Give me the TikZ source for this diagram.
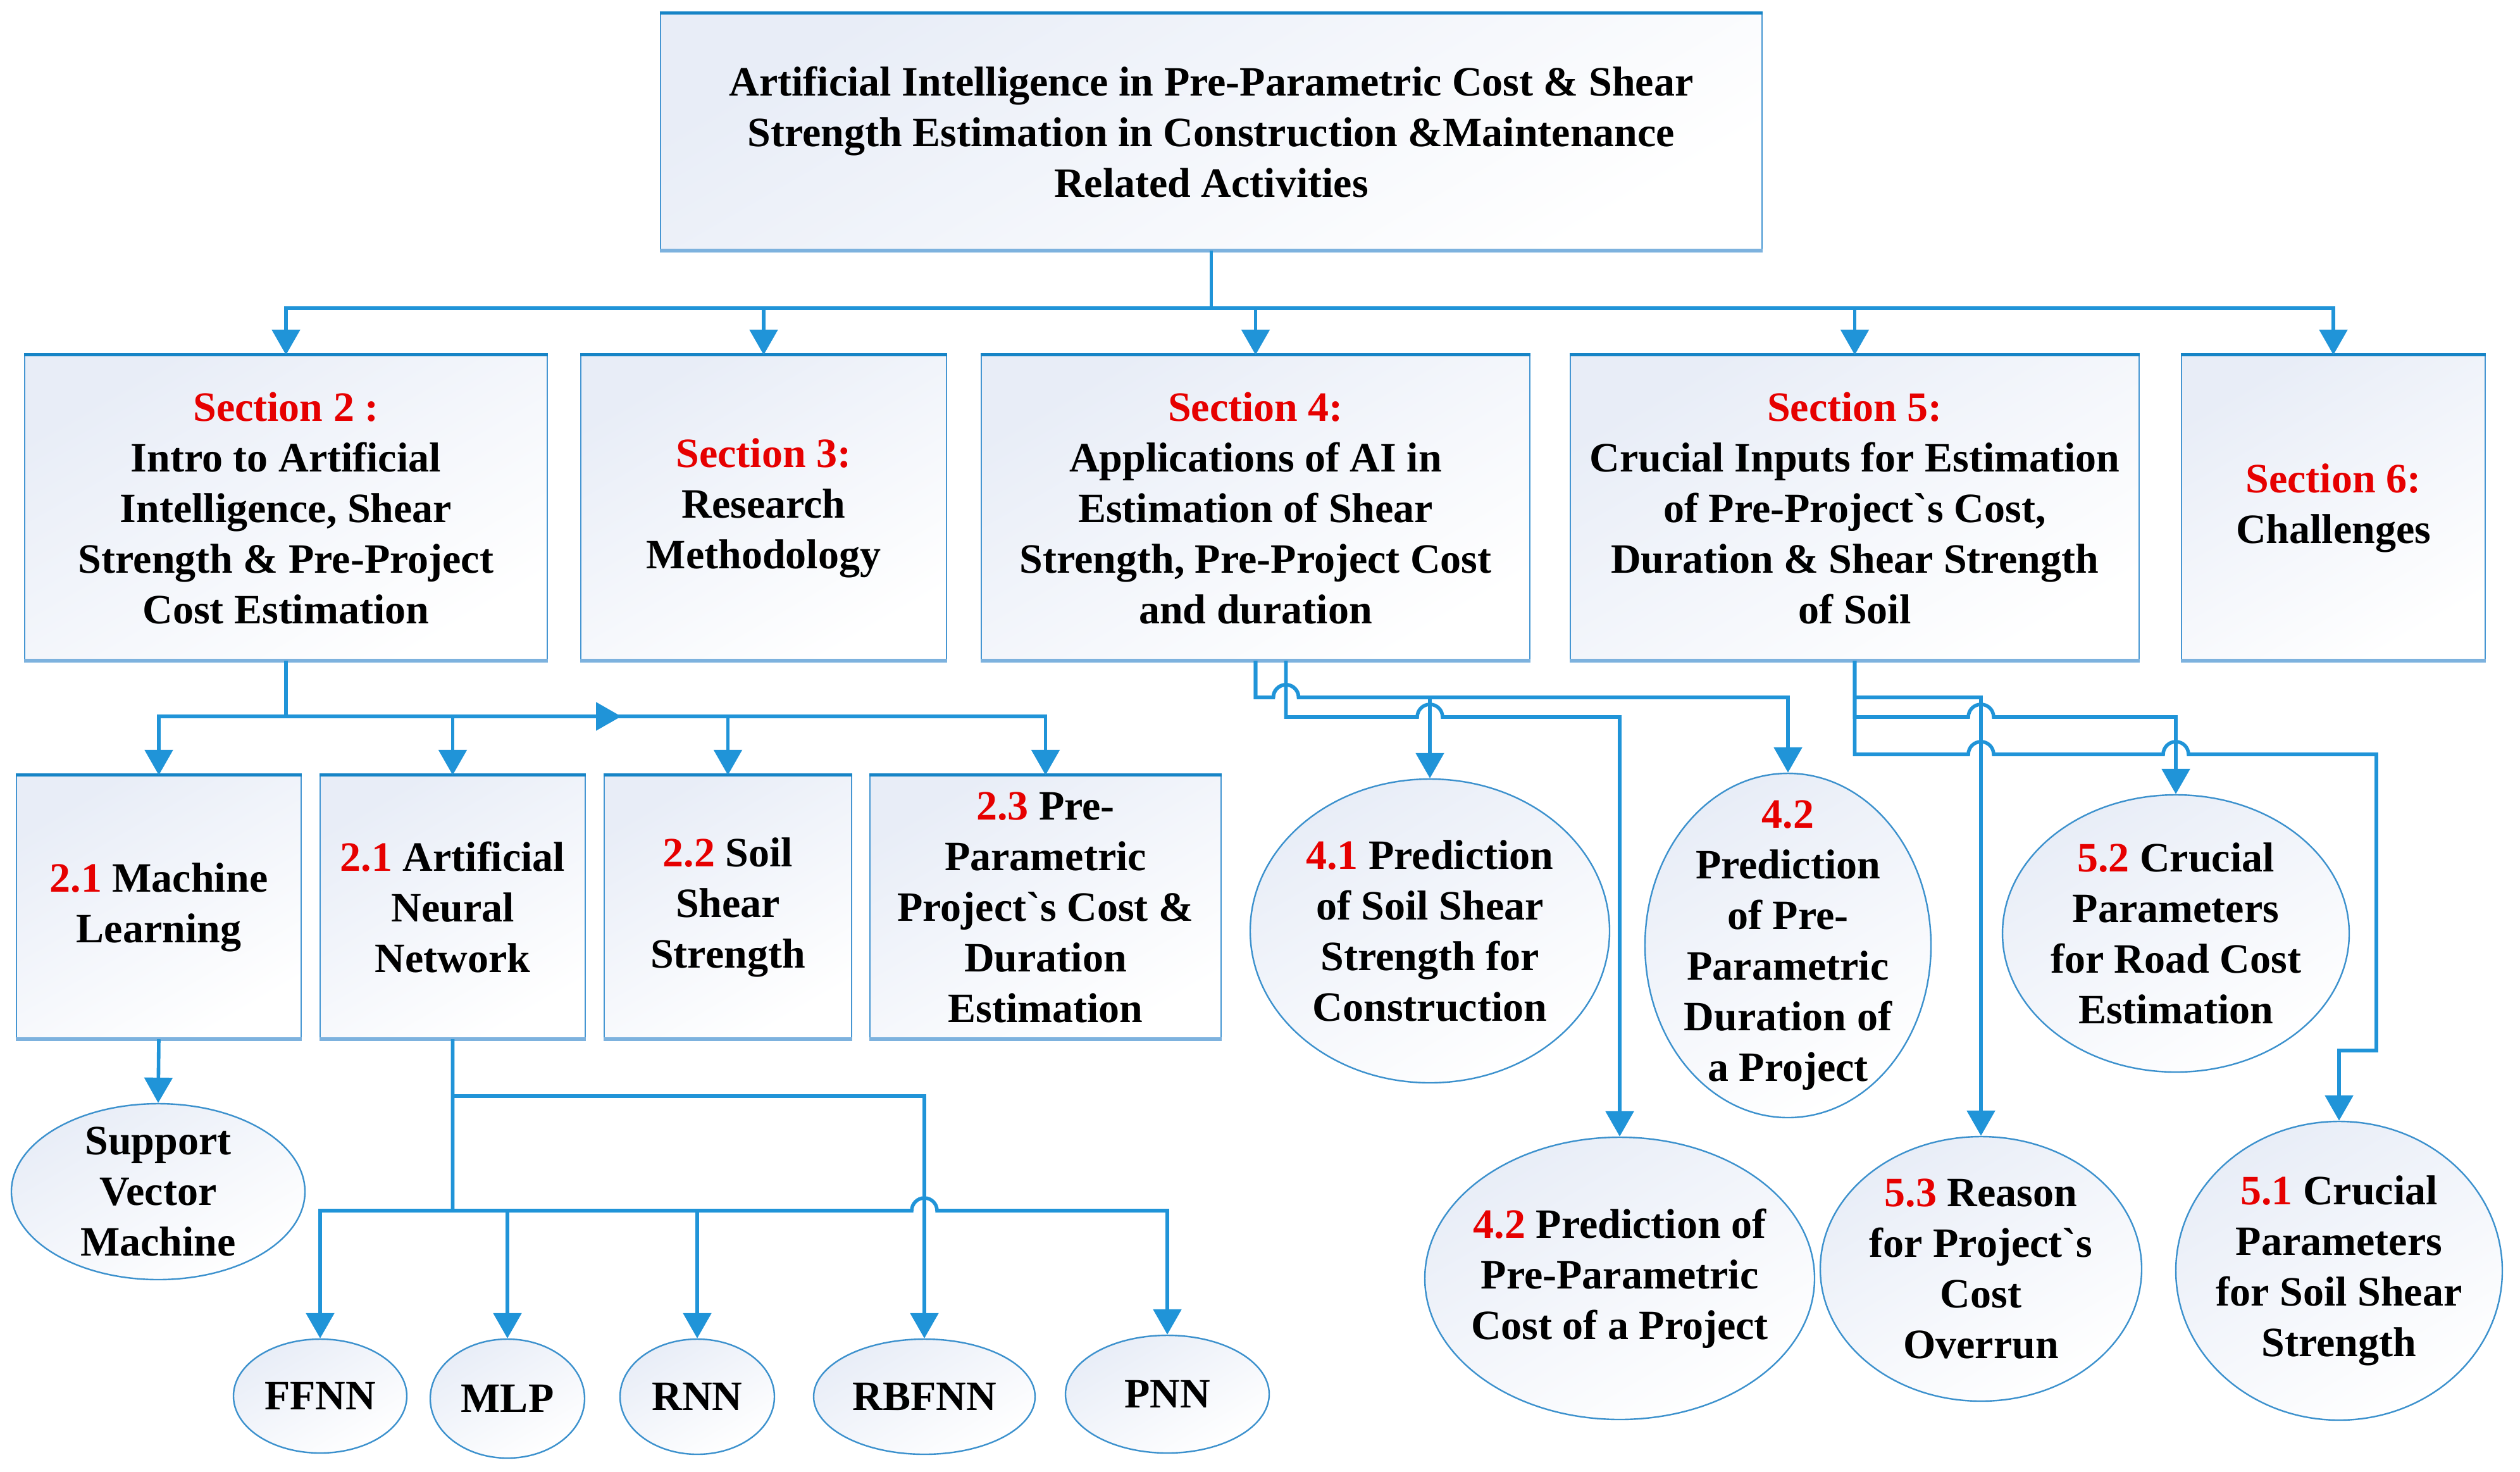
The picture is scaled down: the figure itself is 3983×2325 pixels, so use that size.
\documentclass[tikz,border=0pt]{standalone}
\usepackage{fontspec}
\newfontfamily\tnr{LiberationSerif-Bold.ttf}
\usetikzlibrary{shapes.geometric,arrows.meta}
\definecolor{lineblue}{RGB}{32,148,216}
\definecolor{sideblue}{RGB}{70,150,210}
\definecolor{topblue}{RGB}{22,132,198}
\definecolor{botblue}{RGB}{125,178,222}
\definecolor{ellblue}{RGB}{60,145,205}
\definecolor{fillA}{RGB}{232,237,247}
\definecolor{secred}{RGB}{230,0,0}
\newcommand{\rd}[1]{\textcolor{secred}{#1}}
\tikzset{
  box/.style={draw=sideblue, line width=0.6pt, inner sep=0pt, align=center,
    shading=axis, top color=fillA, bottom color=white, shading angle=30},
  ell/.style={ellipse, draw=ellblue, line width=0.6pt, inner sep=0pt,
    shading=axis, top color=fillA, bottom color=white, shading angle=30},
  lbl/.style={align=center, inner sep=0pt},
  conn/.style={draw=lineblue, line width=1.4pt},
  arr/.style={draw=lineblue, line width=1.4pt, -{Triangle[width=11pt,length=10pt]}},
  topedge/.style={draw=topblue, line width=1.3pt},
  botedge/.style={draw=botblue, line width=1.6pt}
}
\begin{document}
\begin{tikzpicture}[x=0.25pt, y=-0.25pt, font=\tnr\fontsize{16.5}{20}\selectfont]
\fill[white] (0,0) rectangle (3983,2325);
\useasboundingbox (0,0) rectangle (3983,2325);

% coordinates for buses
\coordinate (bus1) at (0,487);
\coordinate (bus2) at (0,1132);
\coordinate (bus3) at (0,1913);
\coordinate (bus3b) at (0,1732);
\coordinate (la) at (0,1102);
\coordinate (lb) at (0,1133);
\coordinate (lc) at (0,1192);
\coordinate (midarr) at (982,1132);
\coordinate (r51) at (3756,1660);

% top box
\node[box, minimum width=435.25pt, minimum height=93.25pt] (top) at (1914.5,208.5)
  {Artificial Intelligence in Pre-Parametric Cost \& Shear\\Strength Estimation in Construction \&Maintenance\\Related Activities};

% sections
\node[box, minimum width=206.5pt, minimum height=120.25pt] (s2) at (452,802.5)
  {\rd{Section 2 :}\\Intro to Artificial\\Intelligence, Shear\\Strength \& Pre-Project\\Cost Estimation};
\node[box, minimum width=144.5pt, minimum height=120.25pt] (s3) at (1207,802.5)
  {\rd{Section 3:}\\Research\\Methodology};
\node[box, minimum width=216.75pt, minimum height=120.25pt] (s4) at (1984.5,802.5)
  {\rd{Section 4:}\\Applications of AI in\\Estimation of Shear\\Strength, Pre-Project Cost\\and duration};
\node[box, minimum width=224.75pt, minimum height=120.25pt] (s5) at (2931.5,802.5)
  {\rd{Section 5:}\\Crucial Inputs for Estimation\\of Pre-Project\textasciigrave s Cost,\\Duration \& Shear Strength\\of Soil};
\node[box, minimum width=120pt, minimum height=120.25pt] (s6) at (3688,802.5)
  {\rd{Section 6:}\\Challenges};

% level 2 boxes
\node[box, minimum width=112.5pt, minimum height=103.75pt] (ml) at (251,1433.5)
  {\rd{2.1} Machine\\Learning};
\node[box, minimum width=104.75pt, minimum height=103.75pt] (ann) at (715.5,1433.5)
  {\rd{2.1} Artificial\\Neural\\Network};
\node[box, minimum width=97.75pt, minimum height=103.75pt] (soil) at (1150.5,1433.5)
  {\rd{2.2} Soil\\Shear\\Strength};
\node[box, minimum width=138.75pt, minimum height=103.75pt] (p23) at (1652.5,1433.5)
  {\rd{2.3} Pre-\\Parametric\\Project\textasciigrave s Cost \&\\Duration\\Estimation};

\foreach \n in {top,s2,s3,s4,s5,s6,ml,ann,soil,p23}{
  \draw[topedge] (\n.north west) -- (\n.north east);
  \draw[botedge] (\n.south west) -- (\n.south east);
}

% ellipses
\node[ell, minimum width=116pt, minimum height=69.5pt,
  label={[lbl]center:Support\\Vector\\Machine}] (svm) at (250,1883) {};
\node[ell, minimum width=68.5pt, minimum height=45pt,
  label={[lbl]center:FFNN}] (ffnn) at (506,2206) {};
\node[ell, minimum width=61pt, minimum height=47pt,
  label={[lbl]center:MLP}] (mlp) at (802,2210) {};
\node[ell, minimum width=61pt, minimum height=45.5pt,
  label={[lbl]center:RNN}] (rnn) at (1102,2207) {};
\node[ell, minimum width=87.5pt, minimum height=45.5pt,
  label={[lbl]center:RBFNN}] (rbf) at (1461,2207) {};
\node[ell, minimum width=80.5pt, minimum height=46.5pt,
  label={[lbl]center:PNN}] (pnn) at (1845,2203) {};

\node[ell, minimum width=142pt, minimum height=120pt,
  label={[lbl]center:\rd{4.1} Prediction\\of Soil Shear\\Strength for\\Construction}] (e41) at (2260,1471) {};
\node[ell, minimum width=113pt, minimum height=136pt,
  label={[lbl]center:\rd{4.2}\\Prediction\\of Pre-\\Parametric\\Duration of\\a Project}] (e42d) at (2826,1494) {};
\node[ell, minimum width=137pt, minimum height=109.5pt,
  label={[lbl]center:\rd{5.2} Crucial\\Parameters\\for Road Cost\\Estimation}] (e52) at (3439,1475) {};
\node[ell, minimum width=154pt, minimum height=111.5pt,
  label={[lbl]center:\rd{4.2} Prediction of\\Pre-Parametric\\Cost of a Project}] (e42c) at (2560,2020) {};
\node[ell, minimum width=127pt, minimum height=104.5pt,
  label={[lbl]center:\rd{5.3} Reason\\for Project\textasciigrave s\\Cost\\Overrun}] (e53) at (3131,2005) {};
\node[ell, minimum width=129pt, minimum height=118pt,
  label={[lbl]center:\rd{5.1} Crucial\\Parameters\\for Soil Shear\\Strength}] (e51) at (3697,2008) {};

% connectors: top to sections
\foreach \n in {s2,s3,s4,s5,s6}
  \draw[arr] (top.south) -- (top.south |- bus1) -| (\n.north);

% section 2 to subsections
\foreach \n in {ml,ann,soil,p23}
  \draw[arr] (s2.south) -- (s2.south |- bus2) -| (\n.north);
\draw[arr] (s2.south |- bus2) -- (midarr);

\draw[arr] (ml.south) -- (svm.north);

% ANN to networks
\foreach \n in {ffnn,mlp,rnn}
  \draw[arr] (ann.south) -- (ann.south |- bus3) -| (\n.north);
\draw[arr] (ann.south) -- (ann.south |- bus3b) -| (rbf.north);
\draw[arr] (ann.south) -- (ann.south |- bus3) -- ([xshift=-5pt]rbf.north |- bus3)
  arc[start angle=180, end angle=360, radius=20] -| (pnn.north);

% section 4
\coordinate (s4b) at ([xshift=12pt]s4.south);
\draw[arr] (s4.south) -- (s4.south |- la) -- ([xshift=-5pt]s4b |- la)
  arc[start angle=180, end angle=360, radius=20] -| (e42d.north);
\draw[arr] (s4.south) -- (s4.south |- la) -- ([xshift=-5pt]s4b |- la)
  arc[start angle=180, end angle=360, radius=20] -| (e41.north);
\draw[arr] (s4b) -- (s4b |- lb) -- ([xshift=-5pt]e41.north |- lb)
  arc[start angle=180, end angle=360, radius=20] -| (e42c.north);

% section 5
\draw[arr] (s5.south) -- (s5.south |- la) -| (e53.north);
\draw[arr] (s5.south) -- (s5.south |- lb) -- ([xshift=-5pt]e53.north |- lb)
  arc[start angle=180, end angle=360, radius=20] -| (e52.north);
\draw[arr] (s5.south) -- (s5.south |- lc) -- ([xshift=-5pt]e53.north |- lc)
  arc[start angle=180, end angle=360, radius=20] -- ([xshift=-5pt]e52.north |- lc)
  arc[start angle=180, end angle=360, radius=20] -- (r51 |- lc) -- (r51) -| (e51.north);
\end{tikzpicture}
\end{document}
